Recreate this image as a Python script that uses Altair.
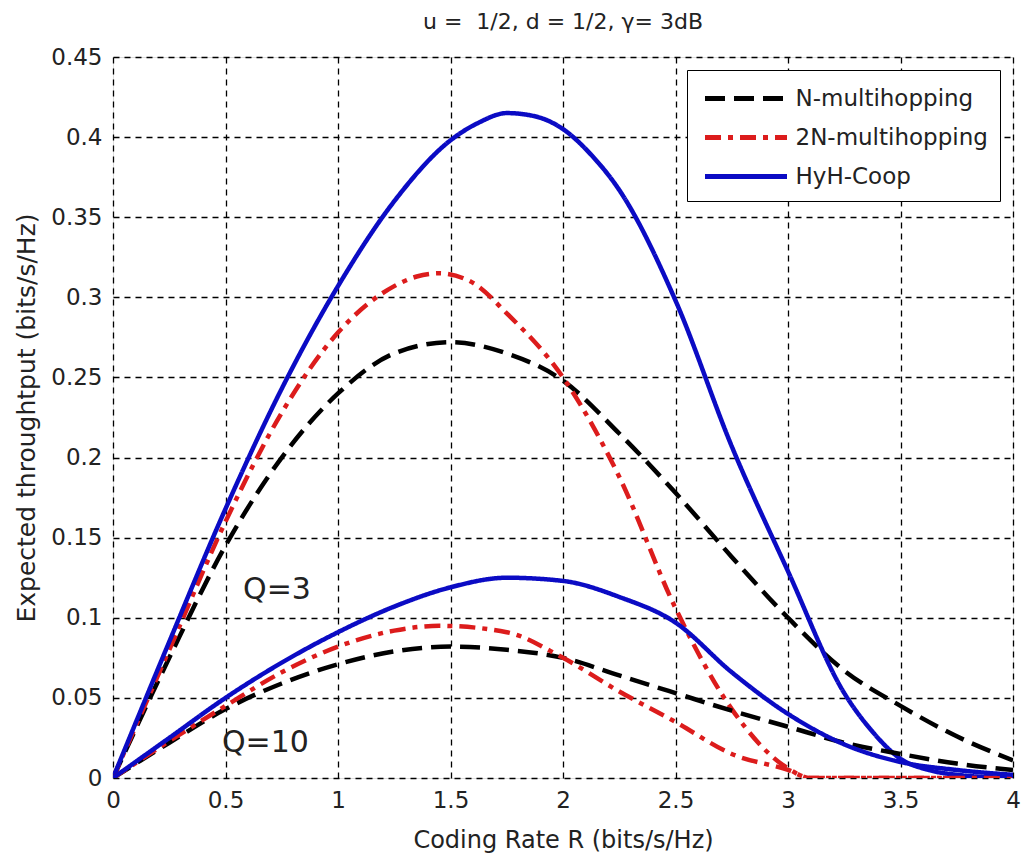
import altair as alt
import pandas as pd

# ---- data ----
series_names = ["N-multihopping", "2N-multihopping", "HyH-Coop"]
series_colors = ["#000000", "#dc1c1c", "#0b0bc4"]
series_dashes = [[20, 9], [16, 7, 5, 7], [1, 0]]

# N-multihopping
x_n = [0, 0.25, 0.5, 0.75, 1.0, 1.25, 1.5, 1.75, 2.0, 2.25, 2.5, 2.75, 3.0, 3.25, 3.5, 3.75, 4.0]
n_q3 = [0, 0.075, 0.145, 0.200, 0.240, 0.265, 0.272, 0.265, 0.248, 0.215, 0.178, 0.138, 0.100, 0.067, 0.045, 0.026, 0.011]
n_q10 = [0, 0.022, 0.043, 0.059, 0.071, 0.079, 0.082, 0.080, 0.075, 0.064, 0.053, 0.042, 0.032, 0.022, 0.015, 0.009, 0.005]

# 2N-multihopping
x_r3 = [0, 0.25, 0.5, 0.75, 1.0, 1.25, 1.35, 1.45, 1.6, 1.75, 2.0, 2.25, 2.5, 2.75, 3.0, 3.1, 3.5, 4.0]
r_q3 = [0, 0.080, 0.160, 0.228, 0.278, 0.307, 0.313, 0.315, 0.309, 0.290, 0.250, 0.188, 0.106, 0.043, 0.006, 0.0, 0.0, 0.0]
x_r10 = [0, 0.25, 0.5, 0.75, 1.0, 1.25, 1.45, 1.75, 2.0, 2.25, 2.5, 2.75, 3.0, 3.1, 3.5, 4.0]
r_q10 = [0, 0.023, 0.045, 0.066, 0.082, 0.092, 0.095, 0.091, 0.075, 0.054, 0.035, 0.015, 0.005, 0.0, 0.0, 0.0]

# HyH-Coop
x_h3 = [0, 0.25, 0.5, 0.75, 1.0, 1.25, 1.5, 1.625, 1.75, 1.875, 2.0, 2.125, 2.25, 2.5, 2.75, 3.0, 3.25,
        3.375, 3.5, 3.625, 3.75, 4.0]
h_q3 = [0, 0.085, 0.168, 0.243, 0.307, 0.360, 0.398, 0.409, 0.415, 0.413, 0.405, 0.389, 0.367, 0.298, 0.207, 0.129, 0.053,
        0.029, 0.012, 0.005, 0.002, 0.0]
x_h10 = [0, 0.25, 0.5, 0.75, 1.0, 1.25, 1.5, 1.75, 2.0, 2.25, 2.5, 2.75, 3.0, 3.25, 3.5, 3.75, 4.0]
h_q10 = [0, 0.025, 0.050, 0.072, 0.091, 0.107, 0.119, 0.125, 0.123, 0.113, 0.097, 0.066, 0.040, 0.021, 0.010, 0.005, 0.002]

annot_text = ["Q=3", "Q=10"]
annot_x = [0.578, 0.484]
annot_y = [0.112, 0.016]

rows = []
for name, q, xs, ys in [
    ("N-multihopping", "3", x_n, n_q3),
    ("2N-multihopping", "3", x_r3, r_q3),
    ("HyH-Coop", "3", x_h3, h_q3),
    ("N-multihopping", "10", x_n, n_q10),
    ("2N-multihopping", "10", x_r10, r_q10),
    ("HyH-Coop", "10", x_h10, h_q10),
]:
    for xv, yv in zip(xs, ys):
        rows.append({"series": name, "Q": q, "R": xv, "T": yv})
df = pd.DataFrame(rows)
ann = pd.DataFrame({"text": annot_text, "R": annot_x, "T": annot_y})

FONT = "DejaVu Sans"

xscale = alt.Scale(domain=[0, 4], nice=False, zero=False)
yscale = alt.Scale(domain=[0, 0.45], nice=False)

axis_common = dict(format="~g", labelFontSize=23, labelFont=FONT, titleFont=FONT,
                   titleFontWeight="normal", labelPadding=11, ticks=False, tickSize=0,
                   domain=False, grid=True, gridColor="black", gridDash=[6, 5], gridWidth=1.3,
                   labelColor="#222", titleColor="#222", labelFlush=False)

lines = alt.Chart(df).mark_line(strokeWidth=4.5, interpolate="monotone", clip=True).encode(
    x=alt.X("R:Q", scale=xscale,
            axis=alt.Axis(title="Coding Rate R (bits/s/Hz)", values=[0, 0.5, 1, 1.5, 2, 2.5, 3, 3.5, 4],
                          titlePadding=16, titleFontSize=24, **axis_common)),
    y=alt.Y("T:Q", scale=yscale,
            axis=alt.Axis(title="Expected throughtput (bits/s/Hz)",
                          values=[0, 0.05, 0.1, 0.15, 0.2, 0.25, 0.3, 0.35, 0.4, 0.45],
                          titlePadding=11, titleFontSize=25, **axis_common)),
    color=alt.Color("series:N", title=None,
                    scale=alt.Scale(domain=series_names, range=series_colors),
                    legend=alt.Legend(orient="none", legendX=574, legendY=13, fillColor="white",
                                      strokeColor="black", padding=12, symbolType="M-3,0H3",
                                      symbolSize=747, symbolStrokeWidth=5, symbolOffset=30.5,
                                      labelFontSize=23, labelFont=FONT, labelOffset=33,
                                      labelLimit=400, rowPadding=10, labelColor="#222")),
    strokeDash=alt.StrokeDash("series:N", title=None,
                              scale=alt.Scale(domain=series_names, range=series_dashes)),
    detail="Q:N",
)

texts = alt.Chart(ann).mark_text(fontSize=30, font=FONT, align="left", baseline="alphabetic",
                                  color="#222").encode(
    x=alt.X("R:Q", scale=xscale),
    y=alt.Y("T:Q", scale=yscale),
    text="text:N",
)

chart = alt.layer(lines, texts).properties(
    width=900,
    height=721,
    autosize=alt.AutoSizeParams(type="none"),
    padding={"left": 113, "top": 57, "right": 11, "bottom": 79},
    title=alt.TitleParams(text="u = \u00a01/2, d = 1/2, γ= 3dB", fontSize=22, font=FONT, fontWeight="normal",
                          anchor="middle", frame="group", baseline="alphabetic", offset=-5, color="#222"),
).configure_view(stroke="black", strokeWidth=1.5).configure(background="white")

chart.save("out.html", embed_options={"renderer": "svg", "actions": False})
